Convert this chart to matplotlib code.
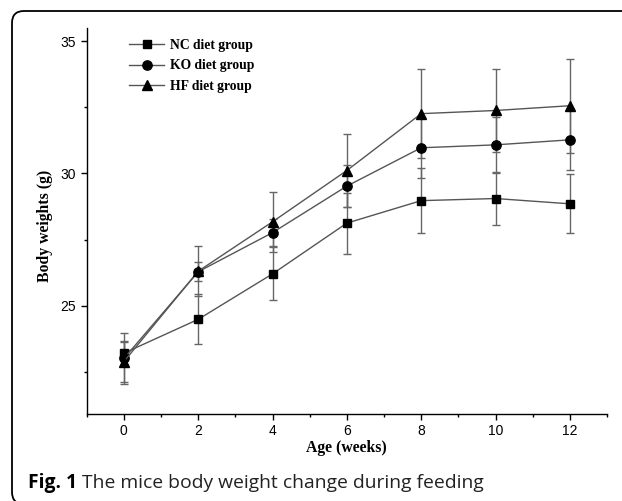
import matplotlib
matplotlib.use("Agg")
import matplotlib.pyplot as plt
from matplotlib.patches import FancyBboxPatch
from matplotlib.transforms import IdentityTransform
from matplotlib.ticker import MultipleLocator

weeks = [0, 2, 4, 6, 8, 10, 12]
nc_mean = [23.20, 24.48, 26.20, 28.12, 28.97, 29.05, 28.85]
nc_err = [0.42, 0.95, 1.00, 1.15, 1.23, 1.00, 1.12]
ko_mean = [23.00, 26.28, 27.76, 29.52, 30.97, 31.08, 31.27]
ko_err = [0.98, 0.36, 0.50, 0.78, 1.13, 1.05, 1.15]
hf_mean = [22.88, 26.30, 28.17, 30.11, 32.26, 32.38, 32.56]
hf_err = [0.78, 0.94, 1.14, 1.39, 1.68, 1.56, 1.77]
labels = ["NC diet group", "KO diet group", "HF diet group"]
caption_bold = "Fig. 1"
caption_text = " The mice body weight change during feeding"

W, H = 622, 501
fig = plt.figure(figsize=(W / 100, H / 100), dpi=100)
fig.patch.set_facecolor("white")

# rounded frame
frame = FancyBboxPatch((12, -3), 700, 501 - 11 + 3, boxstyle="round,pad=0,rounding_size=12",
                       transform=IdentityTransform(), fill=False, edgecolor="black",
                       linewidth=1.3, zorder=0)
fig.patches.append(frame)

ax = fig.add_axes([86.7 / W, 1 - 414 / H, (607 - 86.7) / W, (414 - 28) / H])
ax.set_xlim(-1, 13)
ax.set_ylim(20.9, 35.5)
for s in ("top", "right"):
    ax.spines[s].set_visible(False)
for s in ("left", "bottom"):
    ax.spines[s].set_linewidth(1.0)

series = [
    (nc_mean, nc_err, "s", 6.2),
    (ko_mean, ko_err, "o", 6.7),
    (hf_mean, hf_err, "^", 7.2),
]
handles = []
for (m, e, mk, ms), lab in zip(series, labels):
    ax.errorbar(weeks, m, yerr=e, fmt="none", ecolor="#666666", elinewidth=1.0,
                capsize=2.8, capthick=1.0, zorder=2)
    h, = ax.plot(weeks, m, color="#555555", lw=1.0, marker=mk, markersize=ms,
                 markerfacecolor="black", markeredgecolor="black", zorder=3, label=lab)
    handles.append(h)

ax.xaxis.set_major_locator(MultipleLocator(2))
ax.xaxis.set_minor_locator(MultipleLocator(1))
ax.yaxis.set_major_locator(MultipleLocator(5))
ax.yaxis.set_minor_locator(MultipleLocator(2.5))
ax.tick_params(which="major", direction="out", length=4.5, width=1.0,
               labelsize=10, labelcolor="black", pad=3)
ax.tick_params(which="minor", direction="out", length=2.5, width=1.0)
for t in ax.get_xticklabels() + ax.get_yticklabels():
    t.set_family("Liberation Sans")

ax.set_xlabel("Age (weeks)", family="Liberation Serif", fontweight="bold", fontsize=11.3, va="center")
ax.xaxis.set_label_coords(0.5, (414 - 448) / 386)
ax.set_ylabel("Body weights (g)", family="Liberation Serif", fontweight="bold", fontsize=11.3, va="center")
ax.yaxis.set_label_coords((45 - 86.7) / 520.3, (414 - 226) / 386)

leg = ax.legend(handles=handles, loc="upper left", bbox_to_anchor=(129 / W, 1 - 39 / H),
                bbox_transform=fig.transFigure, frameon=False, borderpad=0, borderaxespad=0,
                handlelength=2.6, handletextpad=0.4, labelspacing=0.55,
                prop={"family": "Liberation Serif", "weight": "bold", "size": 9.8})

# caption
fig.canvas.draw()
t1 = fig.text(28 / W, 1 - 483 / H, caption_bold, family="Open Sans", fontweight="bold",
              fontsize=13.9, va="center", ha="left")
fig.canvas.draw()
bb = t1.get_window_extent()
fig.text(bb.x1 / W, 1 - 483 / H, caption_text, family="Open Sans", fontsize=13.9,
         va="center", ha="left", color="#222222")

fig.savefig("out.png", dpi=100)
